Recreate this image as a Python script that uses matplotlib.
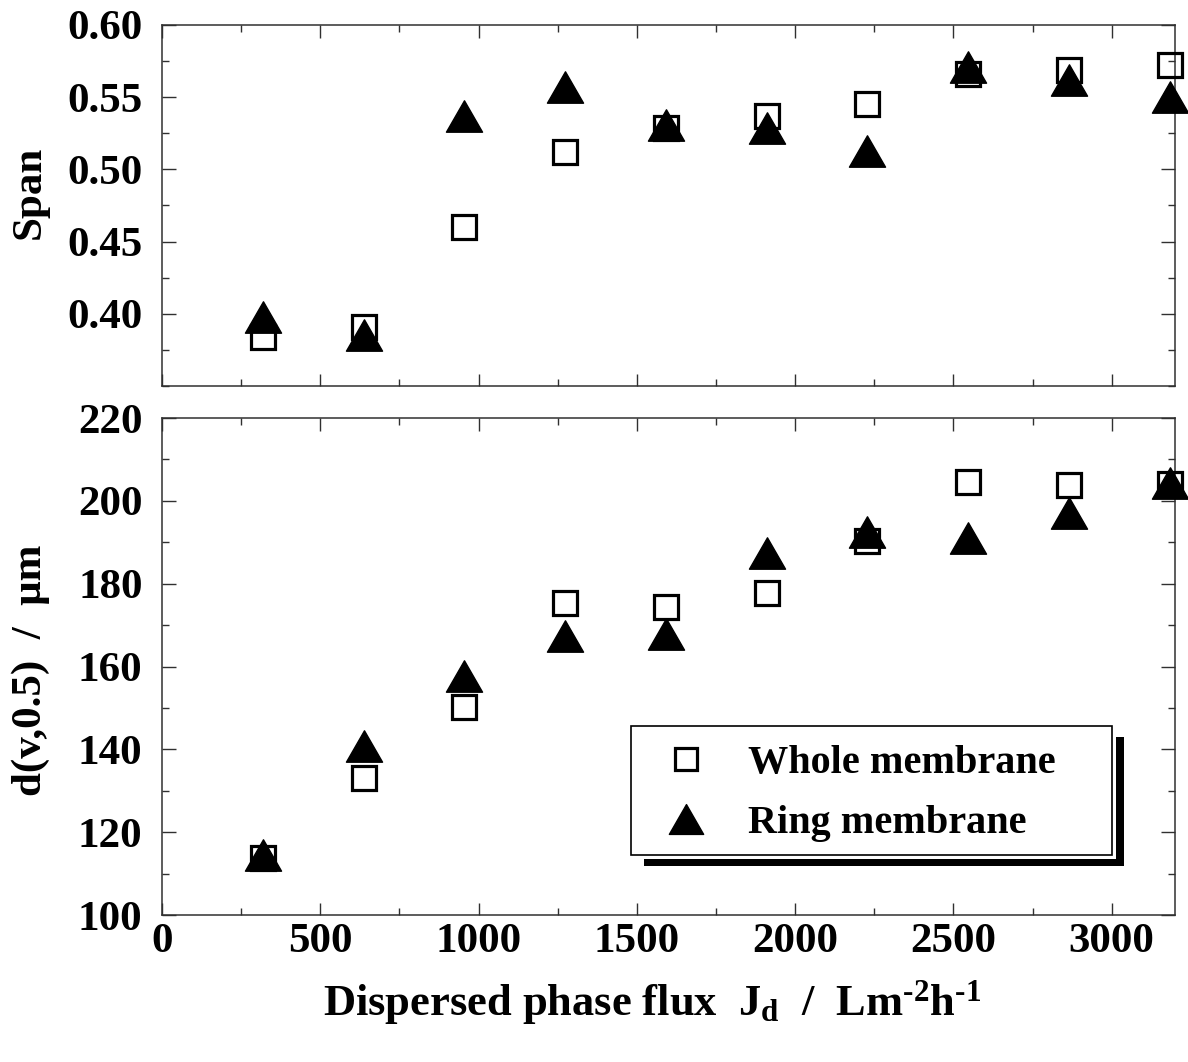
import numpy as np
import matplotlib
matplotlib.use("Agg")
from matplotlib import pyplot as plt
from matplotlib.path import Path
from matplotlib.patches import Rectangle
from matplotlib.ticker import MultipleLocator

# Dispersed phase flux values (L m-2 h-1)
flux = [318, 637, 955, 1273, 1592, 1910, 2228, 2546, 2865, 3183]

# Span of the droplet size distribution
spanWhole = [0.384, 0.391, 0.460, 0.512, 0.529, 0.537, 0.545, 0.566, 0.569, 0.572]
spanRing = [0.398, 0.385, 0.537, 0.557, 0.531, 0.529, 0.513, 0.571, 0.562, 0.550]

# Median droplet diameter d(v,0.5) in micrometres
dWhole = [113.8, 133.1, 150.2, 175.3, 174.4, 177.8, 190.3, 204.5, 203.8, 204.1]
dRing = [114.5, 140.8, 157.7, 167.4, 167.9, 187.4, 192.5, 191.0, 197.1, 204.3]

labelWhole = 'Whole membrane'
labelRing = 'Ring membrane'

plt.rcParams['font.family'] = 'Liberation Serif'
plt.rcParams['font.weight'] = 'bold'
plt.rcParams['mathtext.fontset'] = 'custom'
plt.rcParams['mathtext.rm'] = 'Liberation Serif:bold'
plt.rcParams['mathtext.it'] = 'Liberation Serif:bold'
plt.rcParams['mathtext.bf'] = 'Liberation Serif:bold'

# wide filled triangle marker
triangle = Path([(-1.15, -1.0), (1.15, -1.0), (0.0, 1.0), (-1.15, -1.0)],
                [Path.MOVETO, Path.LINETO, Path.LINETO, Path.CLOSEPOLY])

sqStyle = dict(marker='s', ms=17, mfc='none', mec='black', mew=2.3, ls='none', clip_on=False, zorder=3)
triStyle = dict(marker=triangle, ms=26, mfc='black', mec='black', mew=1.0, ls='none', clip_on=False, zorder=4)

fig = plt.figure(figsize=(11.88, 10.62), dpi=100)
axTop = fig.add_axes([0.1364, 0.6365, 0.8527, 0.3400])
axBot = fig.add_axes([0.1364, 0.1384, 0.8527, 0.4680])

def styleAxes(ax):
    for s in ax.spines.values():
        s.set_linewidth(1.1)
        s.set_color('#303030')
    ax.tick_params(which='both', direction='in', top=True, right=True, color='#303030', width=1.0)
    ax.tick_params(which='major', length=10)
    ax.tick_params(which='minor', length=5)
    ax.tick_params(axis='x', which='major', length=9)
    ax.xaxis.set_major_locator(MultipleLocator(500))
    ax.xaxis.set_minor_locator(MultipleLocator(250))
    ax.set_xlim(0, 3200)

# Span panel
axTop.plot(flux, spanWhole, **sqStyle)
axTop.plot(flux, spanRing, **triStyle)
axTop.set_ylim(0.35, 0.60)
axTop.set_yticks([0.40, 0.45, 0.50, 0.55, 0.60])
axTop.yaxis.set_minor_locator(MultipleLocator(0.025))
styleAxes(axTop)
axTop.set_xticklabels([])
axTop.set_yticklabels(['%.2f' % v for v in [0.40, 0.45, 0.50, 0.55, 0.60]], fontsize=31, fontweight='bold')
axTop.tick_params(axis='y', pad=14)

# Median diameter panel
axBot.plot(flux, dWhole, label=labelWhole, **sqStyle)
axBot.plot(flux, dRing, label=labelRing, **triStyle)
axBot.set_ylim(100, 220)
axBot.yaxis.set_major_locator(MultipleLocator(20))
axBot.yaxis.set_minor_locator(MultipleLocator(10))
styleAxes(axBot)
axBot.tick_params(axis='y', labelsize=31, pad=14)
axBot.tick_params(axis='x', labelsize=31, pad=6)
for lab in axBot.get_xticklabels() + axBot.get_yticklabels():
    lab.set_fontweight('bold')

# axis titles
fig.text(0.0250, 0.819, 'Span', rotation=90, ha='center', va='center', fontsize=31, fontweight='bold')
fig.text(0.0255, 0.369, 'd(v,0.5)  /  \u03bcm', rotation=90, ha='center', va='center',
         fontsize=31, fontweight='bold')
fig.text(0.549, 0.0556, 'Dispersed phase flux  $J_d$  /  Lm$^{\u20102}$h$^{\u20101}$',
         ha='center', va='center', fontsize=32, fontweight='bold')

# legend box with a drop shadow
axBot.add_patch(Rectangle((0.476, 0.0986), 0.474, 0.2594, transform=axBot.transAxes,
                          facecolor='black', edgecolor='none', zorder=5, clip_on=False))
axBot.add_patch(Rectangle((0.459, 0.113), 0.483, 0.277, transform=axBot.transAxes,
                          facecolor='white', edgecolor='none', zorder=6, clip_on=False))
axBot.add_patch(Rectangle((0.463, 0.121), 0.475, 0.259, transform=axBot.transAxes,
                          facecolor='white', edgecolor='black', linewidth=1.2, zorder=7, clip_on=False))
leg = axBot.legend(loc='center left', bbox_to_anchor=(0.497, 0.2445), frameon=False,
                   handlelength=1.0, handletextpad=1.05, labelspacing=0.55,
                   borderpad=0, borderaxespad=0, numpoints=1,
                   prop={'weight': 'bold', 'size': 29})
leg.set_zorder(8)
for h in leg.legend_handles:
    h.set_markersize(h.get_markersize() * 0.95)

fig.savefig('out.png', dpi=100)
